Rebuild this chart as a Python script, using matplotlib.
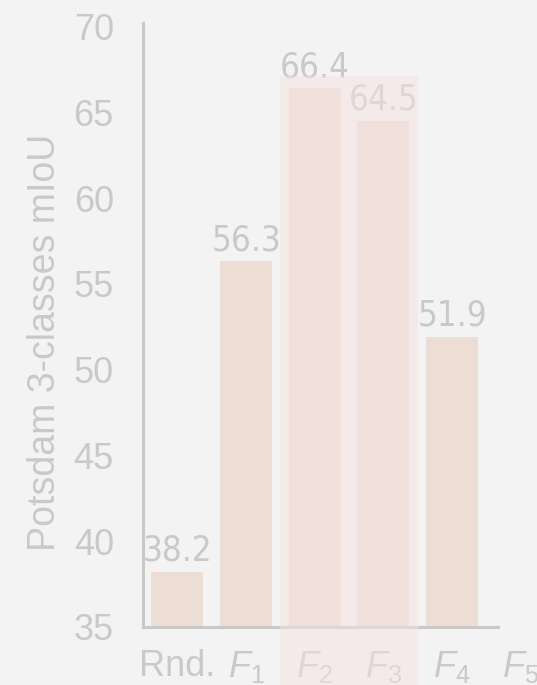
import matplotlib
matplotlib.use("Agg")
import matplotlib.pyplot as plt
from matplotlib.patches import Rectangle

# Potsdam 3-class segmentation results per feature set
categories = ["Rnd.", "$F_1$", "$F_2$", "$F_3$", "$F_4$", "$F_5$"]
miou = [38.2, 56.3, 66.4, 64.5, 51.9]
value_labels = ["38.2", "56.3", "66.4", "64.5", "51.9"]
highlighted = ["$F_2$", "$F_3$"]

BG = "#f3f3f3"
GRAY = "#c9c9c9"
BAR = "#ecddd5"

plt.rcParams["font.family"] = ["Liberation Sans", "DejaVu Sans"]
plt.rcParams["mathtext.fontset"] = "custom"
plt.rcParams["mathtext.rm"] = "Liberation Sans"
plt.rcParams["mathtext.it"] = "Liberation Sans:italic"

fig = plt.figure(figsize=(5.37, 6.85), dpi=100, facecolor=BG)
ax = fig.add_axes([0.2663, 0.085, 0.7672, 0.8763])
ax.set_facecolor(BG)

x = list(range(len(categories)))
ax.bar(x[:len(miou)], miou, width=0.76, color=BAR, zorder=2)

for xi, v, s in zip(x, miou, value_labels):
    ax.annotate(s, (xi, v), xytext=(0, 3), textcoords="offset points",
                ha="center", va="bottom", fontsize=25, color=GRAY,
                family="DejaVu Sans", fontstretch="condensed")

ax.set_xlim(-0.5, 5.5)
ax.set_ylim(35, 70)
ax.set_yticks([35, 40, 45, 50, 55, 60, 65, 70])
ax.set_xticks(x)
ax.set_xticklabels(categories)
ax.tick_params(axis="both", length=0, labelsize=26, labelcolor=GRAY)
ax.tick_params(axis="y", pad=21)
ax.tick_params(axis="x", pad=16)

ax.set_ylabel("Potsdam 3-classes mIoU", fontsize=27, color=GRAY)
ax.yaxis.set_label_coords(-0.195, 0.474)

for side in ("top", "right"):
    ax.spines[side].set_visible(False)
for side in ("left", "bottom"):
    ax.spines[side].set_color(GRAY)
    ax.spines[side].set_linewidth(2.2)
ax.spines["bottom"].set_bounds(-0.5, 4.67)
ax.spines["left"].set_bounds(35, 70.2)

# translucent band over the highlighted feature sets, down through their labels
i0 = categories.index(highlighted[0])
i1 = categories.index(highlighted[-1])
ax.add_patch(Rectangle((i0 - 0.5, 31.4), i1 - i0 + 1, 67.1 - 31.4,
                       facecolor="#f6e2e2", alpha=0.52, edgecolor="none",
                       zorder=5, clip_on=False))

fig.savefig("out.png", dpi=100, facecolor=BG)
